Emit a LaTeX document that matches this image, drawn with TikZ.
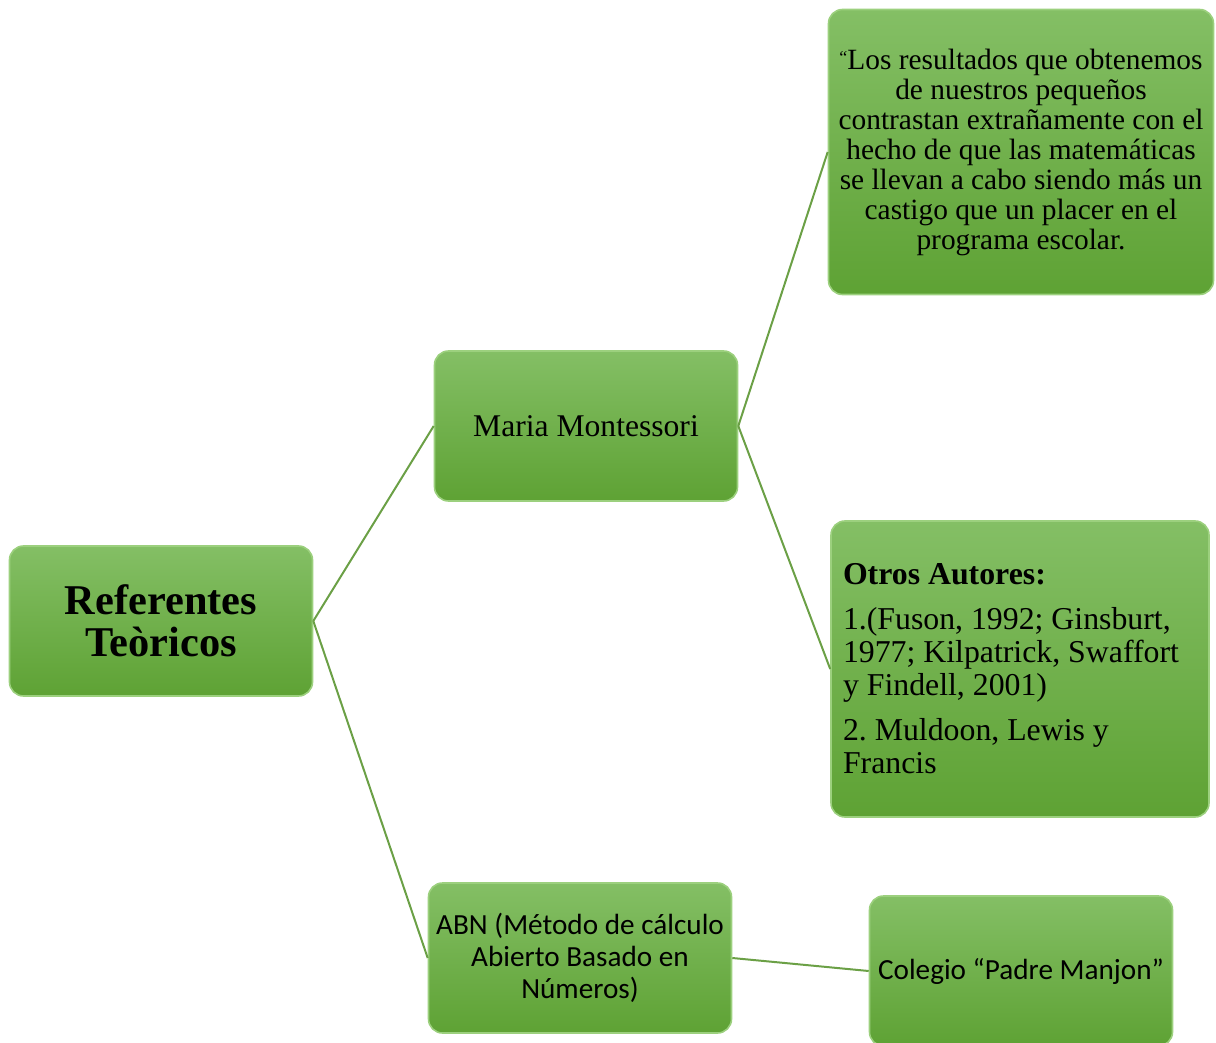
\documentclass[tikz,border=0pt]{standalone}
\usepackage{fontspec}
\setmainfont{Liberation Serif}
\newfontfamily\calibrifont{Carlito}
\usepackage{xcolor}
\usepackage{tikz}

\definecolor{boxtop}{HTML}{84BF65}
\definecolor{boxbot}{HTML}{5EA234}
\definecolor{boxrim}{HTML}{9CD07E}
\definecolor{linkgreen}{HTML}{6BA046}

\begin{document}
\begin{tikzpicture}[x=0.5pt,y=-0.5pt,
  box node/.style={rectangle,rounded corners=7pt,draw=boxrim,line width=0.8pt,
    top color=boxtop,bottom color=boxbot,inner sep=3pt,
    minimum width=151.5pt,minimum height=75pt,align=center},
  link/.style={draw=linkgreen,line width=1pt}]
        \useasboundingbox (0,0) rectangle (1216,1043);
        \node[box node,font=\fontsize{21.2}{21}\selectfont\bfseries] (root) at (161,621) {Referentes\\Teòricos};
        \node[box node,font=\fontsize{15.8}{17}\selectfont] (maria) at (586,426) {Maria Montessori};
        \node[box node,font=\calibrifont\fontsize{14.6}{16}\selectfont] (abn) at (580,958) {ABN (Método de cálculo\\Abierto Basado en\\Números)};
        \node[box node,minimum width=192.5pt,minimum height=142.5pt,
              font=\fontsize{14.7}{15}\selectfont] (quote) at (1021,152)
          {\raisebox{0.4ex}{\fontsize{9}{9}\selectfont “}Los resultados que obtenemos\\de nuestros pequeños\\contrastan extrañamente con el\\hecho de que las matemáticas\\se llevan a cabo siendo más un\\castigo que un placer en el\\programa escolar.};
        \node[box node,minimum width=189pt,minimum height=148pt,text width=177pt,align=flush left,
              font=\fontsize{15.9}{16.5}\selectfont] (otros) at (1020,669)
          {\textbf{Otros Autores:}\\[6pt]1.(Fuson, 1992; Ginsburt,\\1977; Kilpatrick, Swaffort\\y Findell, 2001)\\[6pt]2.\ Muldoon, Lewis y\\Francis};
        \node[box node,font=\calibrifont\fontsize{14.6}{16}\selectfont] (colegio) at (1021,971) {Colegio “Padre Manjon”};
        % tree links
        \path
          (root.east) edge[link] (maria.west)
          (root.east) edge[link] (abn.west)
          (maria.east) edge[link] (quote.west)
          (maria.east) edge[link] (otros.west)
          (abn.east) edge[link] (colegio.west);
      \end{tikzpicture}
\end{document}
